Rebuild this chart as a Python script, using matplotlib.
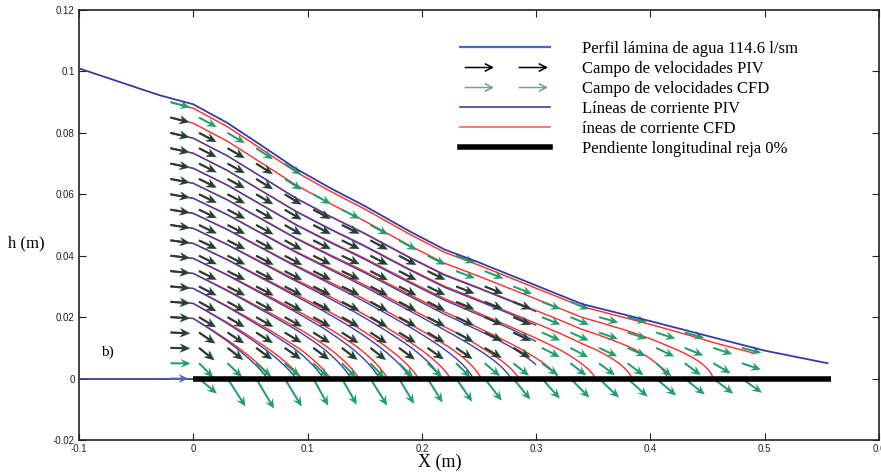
import numpy as np
import matplotlib
matplotlib.use("Agg")
import matplotlib.pyplot as plt
from matplotlib.lines import Line2D
from matplotlib.legend_handler import HandlerLine2D
from matplotlib.path import Path

# water surface profile (m)
surf_x = [-0.1, -0.03, 0.0, 0.03, 0.06, 0.09, 0.12, 0.15, 0.19, 0.22, 0.25,
          0.28, 0.30, 0.34, 0.40, 0.455, 0.50, 0.555]
surf_h = [0.101, 0.0923, 0.0893, 0.0832, 0.0758, 0.0683, 0.0620, 0.0562,
          0.0478, 0.0420, 0.0378, 0.0333, 0.0303, 0.0243, 0.0187, 0.0134,
          0.0091, 0.0050]

# channel bed before the rack and the rack itself
bed_x = [-0.1, 0.0]
bed_y = [0.0, 0.0]
rack_x = [0.0, 0.558]
rack_y = [0.0, 0.0]

# streamlines: height where they start (x = -0.02) and x where they reach the rack
stream_y0 = [0.02, 0.025, 0.03, 0.035, 0.04, 0.045, 0.05, 0.055, 0.06,
             0.065, 0.07, 0.075, 0.08, 0.085, 0.09]
cfd_xend = [0.069, 0.095, 0.12, 0.145, 0.17, 0.197, 0.225, 0.252, 0.285,
            0.32, 0.352, 0.384, 0.415, 0.455, 0.56]
piv_xend = [0.065, 0.09, 0.114, 0.138, 0.163, 0.19, 0.217, 0.245, 0.278,
            0.31, 0.342, 0.375, 0.405, 0.445, 0.55]
n_piv_lines = 13
# share of the velocity at the bed compared with the mean (profile shape)
bed_share = 0.2

# measurement grid of the velocity fields
vec_x = [-0.02, 0.005, 0.03, 0.055, 0.08, 0.105, 0.13, 0.155, 0.18, 0.205,
         0.23, 0.255, 0.28, 0.305, 0.33, 0.355, 0.38, 0.405, 0.43, 0.455, 0.48]
vec_y = [0.005, 0.01, 0.015, 0.02, 0.025, 0.03, 0.035, 0.04, 0.045, 0.05,
         0.055, 0.06, 0.065, 0.07, 0.075, 0.08, 0.085, 0.09]
n_piv_cols = 13

# CFD vectors crossing the rack (tail at y = 0), in m
grate_x = vec_x[1:]
grate_u = [0.0157, 0.0157, 0.0157, 0.0149, 0.0131, 0.0131, 0.0146, 0.0131,
           0.0131, 0.014, 0.0149, 0.0149, 0.0157, 0.0166, 0.0175, 0.0175,
           0.0175, 0.0175, 0.0175, 0.0175]
grate_v = [-0.0049, -0.0091, -0.0098, -0.0091, -0.0088, -0.0085, -0.0088,
           -0.0082, -0.0078, -0.0075, -0.0072, -0.0068, -0.0065, -0.0062,
           -0.0062, -0.0059, -0.0055, -0.0052, -0.0049, -0.0046]

xticks = [-0.1, 0.0, 0.1, 0.2, 0.3, 0.4, 0.5, 0.6]
xticklabels = ["-0.1", "0", "0.1", "0.2", "0.3", "0.4", "0.5", "0.6"]
yticks = [-0.02, 0.0, 0.02, 0.04, 0.06, 0.08, 0.1, 0.12]
yticklabels = ["-0.02", "0", "0.02", "0.04", "0.06", "0.08", "0.1", "0.12"]

labels = ["Perfil lámina de agua 114.6 l/sm", "Campo de velocidades PIV",
          "Campo de velocidades CFD", "Líneas de corriente PIV",
          "íneas de corriente CFD", "Pendiente longitudinal reja 0%"]

c_surf = "#3b3b9e"
c_piv_line = "#4040a8"
c_red = "#ff2a2a"
c_green = "#1f9e6e"
c_black = "#363636"

fig = plt.figure(figsize=(8.81, 4.75), dpi=100)
ax = fig.add_axes([79 / 881, 35 / 475, 800 / 881, 430 / 475])
ax.set_xlim(-0.1, 0.6)
ax.set_ylim(-0.02, 0.12)

# pixels per metre on each axis
sx = 800 / 0.7
sy = 430 / 0.14


def profile(eta):
    return bed_share * eta + (1 - bed_share) * eta ** 2


h_start = np.interp(-0.02, surf_x, surf_h)
levels = profile(np.array(stream_y0) / h_start)


def psi(x, y, xend):
    # stream function built from the surface and the rack discharge
    h = np.interp(x, surf_x, surf_h)
    q = np.interp(x, [-0.1, 0.0] + list(xend), [1.0, 1.0] + list(1 - levels))
    return (1 - q) + q * profile(y / h)


def field(xs, ys, xend, length_px, margin):
    X, Y = np.meshgrid(xs, ys)
    e = 1e-4
    u = (psi(X, Y + e, xend) - psi(X, Y - e, xend)) / (2 * e)
    v = -(psi(X + e, Y, xend) - psi(X - e, Y, xend)) / (2 * e)
    up, vp = u * sx, v * sy
    n = np.hypot(up, vp)
    U = length_px * up / n / sx
    V = length_px * vp / n / sy
    inside = Y < np.interp(X, surf_x, surf_h) - margin
    return X[inside], Y[inside], U[inside], V[inside]


# streamlines
gx = np.linspace(-0.02, 0.49, 700)
gy = np.linspace(0.0, 0.095, 400)
GX, GY = np.meshgrid(gx, gy)
inside = GY <= np.interp(GX, surf_x, surf_h)
P_cfd = np.where(inside, psi(GX, GY, cfd_xend), np.nan)
ax.contour(GX, GY, P_cfd, levels=levels, colors=c_red, linewidths=1.0)

gxp = np.linspace(-0.02, 0.30, 450)
GXp, GYp = np.meshgrid(gxp, gy)
inside_p = GYp <= np.interp(GXp, surf_x, surf_h)
P_piv = np.where(inside_p, psi(GXp, GYp, piv_xend), np.nan)
ax.contour(GXp, GYp, P_piv, levels=levels[:n_piv_lines], colors=c_piv_line,
           linewidths=1.0)

qkw = dict(angles="xy", scale_units="xy", scale=1, pivot="tail",
           width=0.0025, headwidth=4.5, headlength=5, headaxislength=3.5)

# CFD field
Xc, Yc, Uc, Vc = field(vec_x, vec_y, cfd_xend, 20, 0.0004)
ax.quiver(Xc, Yc, Uc, Vc, color=c_green, zorder=3, **qkw)
ax.quiver(grate_x, [0.0] * len(grate_x), grate_u, grate_v, color=c_green,
          zorder=3, **qkw)

# PIV field
Xp, Yp, Up, Vp = field(vec_x[:n_piv_cols], vec_y[1:], piv_xend, 19, 0.006)
ax.quiver(Xp, Yp, Up, Vp, color=c_black, zorder=4, **qkw)

# surface, bed and rack
ax.plot(surf_x, surf_h, color=c_surf, lw=1.3, zorder=5)
ax.plot(bed_x, bed_y, color=c_surf, lw=1.3, zorder=5)
ax.quiver([-0.02], [0.0], [0.0157], [0.0], color="#4a6ab8", zorder=5, **qkw)
ax.plot(rack_x, rack_y, color="black", lw=4, solid_capstyle="butt", zorder=6)

ax.text(-0.081, 0.0085, "b)", family="Liberation Serif", fontsize=11,
        va="center", ha="left")

ax.set_xticks(xticks)
ax.set_xticklabels(xticklabels)
ax.set_yticks(yticks)
ax.set_yticklabels(yticklabels)
ax.tick_params(direction="in", top=True, right=True, length=5, width=0.8,
               labelsize=7, pad=3, colors="#222222")
for lab in ax.get_xticklabels() + ax.get_yticklabels():
    lab.set_family("Liberation Sans")
for s in ax.spines.values():
    s.set_linewidth(1.2)
    s.set_color("#222222")

fig.text(440 / 881, 1 - 462 / 475, "X (m)", family="Liberation Serif",
         fontsize=13, ha="center", va="center")
fig.text(8 / 881, 1 - 243 / 475, "h (m)", family="Liberation Serif",
         fontsize=12, ha="left", va="center")

# legend, with thin open arrows as markers
arrow = Path([(-1, 0), (1, 0), (0.45, 0.28), (1, 0), (0.45, -0.28)],
             [Path.MOVETO, Path.LINETO, Path.MOVETO, Path.LINETO, Path.LINETO])
handles = [
    Line2D([], [], color="#3d6fd2", lw=1.6),
    Line2D([], [], ls="none", marker=arrow, ms=20, mew=1.1, fillstyle="none",
           color="black"),
    Line2D([], [], ls="none", marker=arrow, ms=20, mew=1.1, fillstyle="none",
           color="#7fa08c"),
    Line2D([], [], color="#3d3da8", lw=1.2),
    Line2D([], [], color="#f06a5a", lw=1.2),
    Line2D([], [], color="black", lw=4),
]
hmap = {handles[1]: HandlerLine2D(numpoints=2, marker_pad=1.08),
        handles[2]: HandlerLine2D(numpoints=2, marker_pad=1.08)}
ax.legend(handles, labels, handler_map=hmap, loc="upper left",
          bbox_to_anchor=(460 / 881, 1 - 41 / 475),
          bbox_transform=fig.transFigure, frameon=False, borderpad=0,
          borderaxespad=0, handlelength=5.4, handletextpad=1.92,
          labelspacing=0.24, prop={"family": "Liberation Serif", "size": 12})

fig.savefig("out.png", dpi=100)
